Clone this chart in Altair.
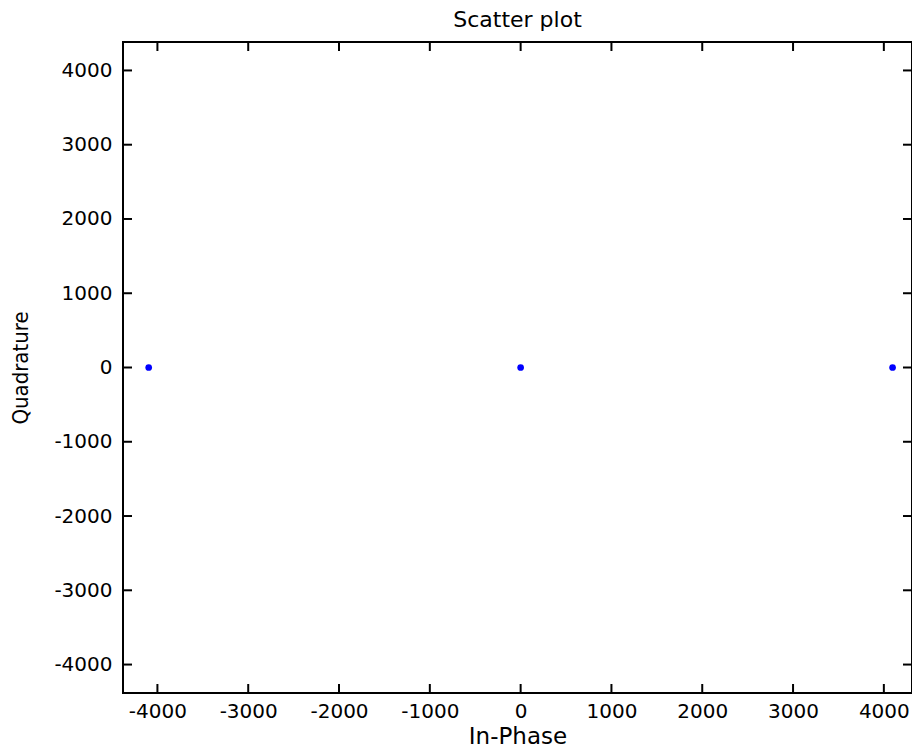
import altair as alt
import pandas as pd

# Data
in_phase = [-4096, 0, 4096]
quadrature = [0, 0, 0]
tick_values = [-4000, -3000, -2000, -1000, 0, 1000, 2000, 3000, 4000]
x_limits = [-4379, 4310]
y_limits = [-4383, 4383]

W, H = 789, 651
TICK = 9

pts = pd.DataFrame({"x": in_phase, "y": quadrature})
ticks = pd.DataFrame({"t": tick_values})

xs = alt.Scale(domain=x_limits, nice=False, zero=False)
ys = alt.Scale(domain=y_limits, nice=False, zero=False)

FONT = "DejaVu Sans"
COND = "DejaVu Sans Condensed, Liberation Sans Narrow, Liberation Sans"

x_axis = alt.Axis(
    values=tick_values, title="In-Phase", grid=False, ticks=False, domain=False,
    labelExpr="'' + datum.value",
    labelFont=FONT, labelFontSize=20, labelColor="#000", labelPadding=8,
    titleFont=FONT, titleFontSize=23, titleFontWeight="normal", titleColor="#000",
    titlePadding=4, labelFlush=False)
y_axis = alt.Axis(
    values=tick_values, title="Quadrature", grid=False, ticks=False, domain=False,
    labelExpr="'' + datum.value",
    labelFont=FONT, labelFontSize=20, labelColor="#000", labelPadding=11,
    titleFont=COND, titleFontSize=22, titleFontWeight="normal",
    titleColor="#000", titleX=-96, titleBaseline="alphabetic", labelFlush=False)

points = alt.Chart(pts).mark_circle(size=45, color="#0000ff", opacity=1).encode(
    x=alt.X("x:Q", scale=xs, axis=x_axis),
    y=alt.Y("y:Q", scale=ys, axis=y_axis),
)

rule_style = dict(color="#000", strokeWidth=2)

bottom_ticks = alt.Chart(ticks).mark_rule(**rule_style).encode(
    x=alt.X("t:Q", scale=xs), y=alt.value(H), y2=alt.value(H - TICK))
top_ticks = alt.Chart(ticks).mark_rule(**rule_style).encode(
    x=alt.X("t:Q", scale=xs), y=alt.value(0), y2=alt.value(TICK))
left_ticks = alt.Chart(ticks).mark_rule(**rule_style).encode(
    y=alt.Y("t:Q", scale=ys), x=alt.value(0), x2=alt.value(TICK))
right_ticks = alt.Chart(ticks).mark_rule(**rule_style).encode(
    y=alt.Y("t:Q", scale=ys), x=alt.value(W), x2=alt.value(W - TICK))

chart = alt.layer(points, bottom_ticks, top_ticks, left_ticks, right_ticks).properties(
    width=W, height=H,
    title=alt.TitleParams("Scatter plot", font=FONT, fontSize=22, fontWeight="normal",
                          color="#000", offset=9),
    autosize=alt.AutoSizeParams(type="none"),
    padding={"left": 115, "top": 34, "right": 0, "bottom": 56},
).configure(background="white", view=alt.ViewConfig(stroke="#000", strokeWidth=2))

chart.save("out.html", embed_options={"renderer": "svg", "actions": False})
